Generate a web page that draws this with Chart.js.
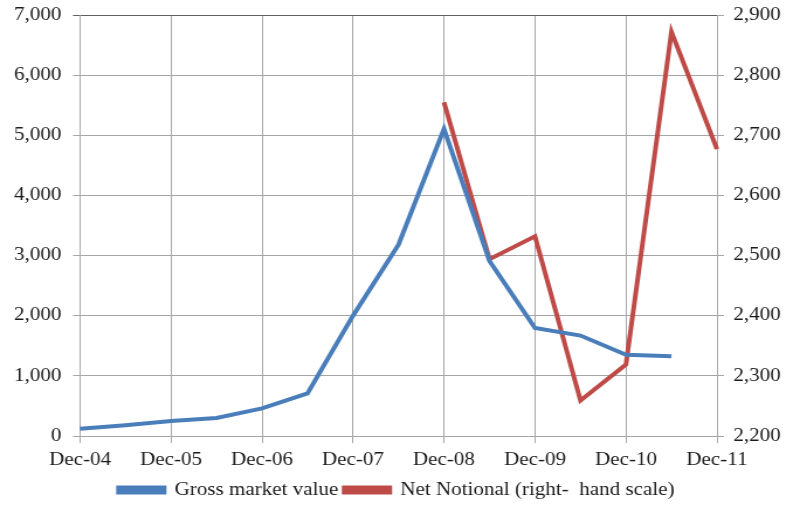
<!DOCTYPE html>
<html>
<head>
<meta charset="utf-8">
<script src="https://cdn.jsdelivr.net/npm/chart.js@4/dist/chart.umd.min.js"></script>
<style>
  html, body { margin: 0; padding: 0; background: #ffffff; overflow: hidden; }
  /* the chart is drawn on a narrower canvas and widened horizontally,
     giving the broad serif lettering of the printed figure */
  #wrap { width: 678px; height: 506px; transform: scaleX(1.1696); transform-origin: 0 0; }
</style>
</head>
<body>
<div id="wrap"><canvas id="c" width="678" height="506"></canvas></div>
<script>
// Half-yearly observations, Dec-04 to Dec-11
const periods = ['Dec-04','Jun-05','Dec-05','Jun-06','Dec-06','Jun-07','Dec-07','Jun-08',
                 'Dec-08','Jun-09','Dec-09','Jun-10','Dec-10','Jun-11','Dec-11'];

// Gross market value (left scale)
const grossMarketValue = [120, 180, 250, 300, 460, 710, 2000, 3180,
                          5105, 2910, 1795, 1670, 1350, 1325, null];

// Net notional (right-hand scale)
const netNotional = [null, null, null, null, null, null, null, null,
                     2755, 2494, 2532, 2259, 2319, 2872, 2677];

const leftTicks = { min: 0, max: 7000, step: 1000 };
const rightTicks = { min: 2200, max: 2900, step: 100 };

const BLUE = '#4a7ebb';
const RED = '#be4b48';
const GRID = '#a6a6a6';
const TEXT = '#1a1a1a';
const FONT = { family: '"Liberation Serif", "Times New Roman", serif', size: 18 };

const fmt = v => v.toLocaleString('en-US');

// value axes: fixed width, no extra room reserved for the end labels
const fitValueAxis = width => s => {
  s.width = width;
  s.paddingTop = 0;
  s.paddingBottom = 0;
};

new Chart(document.getElementById('c'), {
  type: 'line',
  data: {
    labels: periods,
    datasets: [
      {
        label: 'Gross market value',
        data: grossMarketValue,
        borderColor: BLUE,
        backgroundColor: BLUE,
        borderWidth: 4,
        pointRadius: 0,
        tension: 0,
        yAxisID: 'y'
      },
      {
        label: 'Net Notional (right-  hand scale)',
        data: netNotional,
        borderColor: RED,
        backgroundColor: RED,
        borderWidth: 4,
        pointRadius: 0,
        tension: 0,
        yAxisID: 'y1'
      }
    ]
  },
  options: {
    responsive: false,
    animation: false,
    devicePixelRatio: 1,
    layout: { padding: { top: 15, left: 0, right: 0, bottom: -3 } },
    plugins: {
      tooltip: { enabled: false },
      legend: {
        position: 'bottom',
        labels: {
          color: TEXT,
          font: FONT,
          boxWidth: 39,
          boxHeight: 5,
          padding: 5
        }
      }
    },
    scales: {
      x: {
        type: 'category',
        grid: {
          color: ctx => (ctx.index % 2 === 0 ? GRID : 'rgba(0,0,0,0)'),
          tickLength: 7,
          lineWidth: 1
        },
        border: { color: GRID },
        ticks: {
          autoSkip: false,
          maxRotation: 0,
          minRotation: 0,
          color: TEXT,
          font: FONT,
          padding: 6,
          callback: (v, i) => (i % 2 === 0 ? periods[i] : '')
        },
        afterFit: s => {
          s.height = 40;
          s.paddingLeft = 0;
          s.paddingRight = 0;
        }
      },
      y: {
        position: 'left',
        min: leftTicks.min,
        max: leftTicks.max,
        grid: {
          color: ctx => (ctx.tick && ctx.tick.value === leftTicks.max ? '#606060' : GRID),
          tickLength: 6
        },
        border: { color: GRID },
        ticks: {
          stepSize: leftTicks.step,
          color: TEXT,
          font: FONT,
          padding: 10,
          callback: v => fmt(v)
        },
        afterFit: fitValueAxis(68.4)
      },
      y1: {
        position: 'right',
        min: rightTicks.min,
        max: rightTicks.max,
        grid: { drawOnChartArea: false, color: GRID, tickLength: 6 },
        border: { color: GRID },
        ticks: {
          stepSize: rightTicks.step,
          color: TEXT,
          font: FONT,
          padding: 8,
          callback: v => fmt(v)
        },
        afterFit: fitValueAxis(65)
      }
    }
  }
});
</script>
</body>
</html>
